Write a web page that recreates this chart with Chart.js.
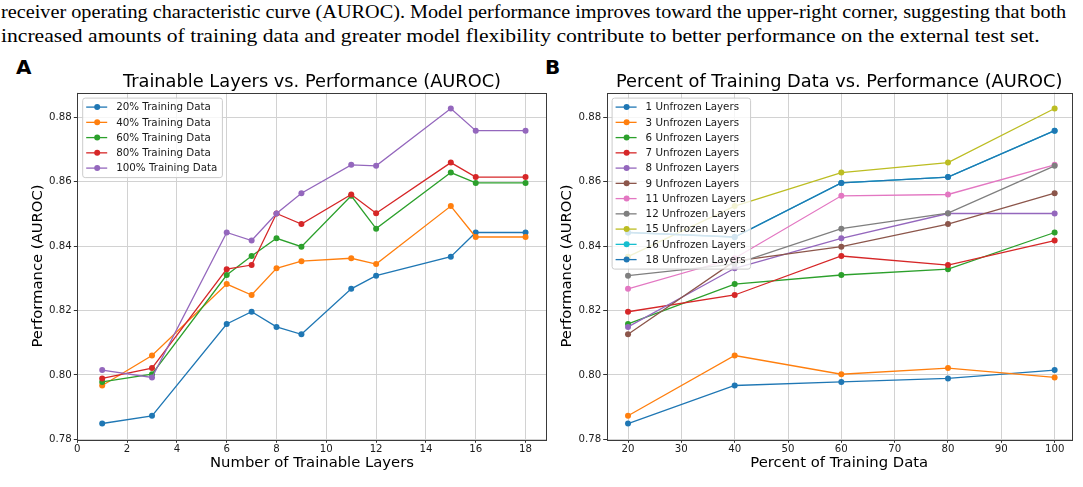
<!DOCTYPE html>
<html lang="en">
<head>
<meta charset="UTF-8">
<title>Trainable Layers and Training Data vs. AUROC</title>
<style>
    body {
        margin: 0;
        width: 1083px;
        height: 487px;
        position: relative;
        overflow: hidden;
        background: #fff;
    }
    .caption {
        position: absolute;
        left: 1px;
        font-family: "Liberation Serif", "Times New Roman", serif;
        font-size: 19px;
        line-height: 24px;
        white-space: nowrap;
        color: #000;
        transform-origin: 0 0;
    }
    .tag {
        position: absolute;
        top: 57px;
        font-family: "DejaVu Sans", sans-serif;
        font-weight: bold;
        font-size: 20px;
        line-height: 20px;
        color: #000;
    }
    canvas {
        position: absolute;
        top: 0;
    }
</style>
<script src="https://cdn.jsdelivr.net/npm/chart.js"></script>
</head>
<body>
    <div class="caption" id="cap1" style="top:0px">receiver operating characteristic curve (AUROC). Model performance improves toward the upper-right corner, suggesting that both</div>
    <div class="caption" id="cap2" style="top:24px">increased amounts of training data and greater model flexibility contribute to better performance on the external test set.</div>
    <div class="tag" style="left:16px">A</div>
    <div class="tag" style="left:545px">B</div>

    <canvas id="chartA" width="562" height="487" style="left:0px"></canvas>
    <canvas id="chartB" width="553" height="487" style="left:530px"></canvas>

<script>
// --- data ---
const trainableLayers = [1, 3, 6, 7, 8, 9, 11, 12, 15, 16, 18];
const trainingPercents = [20, 40, 60, 80, 100];

// AUROC per number of trainable layers, one array per training-data share
const auroc20 = [0.7849, 0.7873, 0.8158, 0.8196, 0.8149, 0.8126, 0.8267, 0.8308, 0.8367, 0.8442, 0.8442];
const auroc40 = [0.7967, 0.8060, 0.8282, 0.8248, 0.8331, 0.8353, 0.8362, 0.8344, 0.8524, 0.8428, 0.8428];
const auroc60 = [0.7978, 0.8002, 0.8310, 0.8369, 0.8424, 0.8398, 0.8556, 0.8454, 0.8628, 0.8596, 0.8596];
const auroc80 = [0.7989, 0.8021, 0.8328, 0.8341, 0.8501, 0.8468, 0.8560, 0.8502, 0.8659, 0.8614, 0.8614];
const auroc100 = [0.8015, 0.7992, 0.8442, 0.8417, 0.8501, 0.8564, 0.8652, 0.8649, 0.8827, 0.8758, 0.8758];

const yTicks = [0.78, 0.80, 0.82, 0.84, 0.86, 0.88];

const tab10 = ['#1f77b4', '#ff7f0e', '#2ca02c', '#d62728', '#9467bd',
               '#8c564b', '#e377c2', '#7f7f7f', '#bcbd22', '#17becf'];

// squeeze each caption line horizontally to the width it has in the reference
(function fitCaption() {
    [['cap1', 1065], ['cap2', 1039]].forEach(([id, target]) => {
        const el = document.getElementById(id);
        el.style.transform = 'scaleX(' + (target / el.offsetWidth) + ')';
    });
})();

const FONT = '"DejaVu Sans", sans-serif';

// matplotlib-like title, frame and legend inside the axes
const frameLegend = {
    id: 'frameLegend',
    afterDatasetsDraw(chart, args, opts) {
        const ctx = chart.ctx;
        const a = chart.chartArea;
        ctx.save();

        ctx.fillStyle = '#000';
        ctx.font = '17.8px ' + FONT;
        ctx.textAlign = 'center';
        ctx.textBaseline = 'middle';
        ctx.fillText(opts.title, (a.left + a.right) / 2, 82.5);

        ctx.strokeStyle = '#3a3a3a';
        ctx.lineWidth = 1;
        ctx.strokeRect(Math.round(a.left) + 0.5, Math.round(a.top) + 0.5,
                       Math.round(a.right - a.left), Math.round(a.bottom - a.top));

        const ds = chart.data.datasets;
        ctx.font = '10.3px ' + FONT;
        ctx.textAlign = 'left';
        const textW = Math.max(...ds.map(d => ctx.measureText(d.label).width));
        const x0 = a.left + 5.4;
        const y0 = a.top + 5.4;
        const rowH = 15.25;
        const w = 33.5 + textW + 5;
        const h = 9 + (ds.length - 1) * rowH + 9.5;

        ctx.beginPath();
        ctx.roundRect(x0, y0, w, h, 2.5);
        ctx.fillStyle = 'rgba(255,255,255,0.8)';
        ctx.fill();
        ctx.strokeStyle = '#cccccc';
        ctx.stroke();

        ds.forEach((d, i) => {
            const y = y0 + 9 + i * rowH;
            ctx.strokeStyle = d.borderColor;
            ctx.lineWidth = 1.3;
            ctx.beginPath();
            ctx.moveTo(x0 + 3.5, y);
            ctx.lineTo(x0 + 24.5, y);
            ctx.stroke();
            ctx.fillStyle = d.borderColor;
            ctx.beginPath();
            ctx.arc(x0 + 14.5, y, 3, 0, Math.PI * 2);
            ctx.fill();
            ctx.fillStyle = '#1a1a1a';
            ctx.fillText(d.label, x0 + 33.5, y + 0.5);
        });
        ctx.restore();
    }
};

function series(label, xs, ys, i, n) {
    return {
        label: label,
        data: xs.map((x, k) => ({ x: x, y: ys[k] })),
        borderColor: tab10[i % 10],
        backgroundColor: tab10[i % 10],
        borderWidth: 1.3,
        pointRadius: 3,
        pointBorderWidth: 0,
        tension: 0,
        order: n - 1 - i
    };
}

function makeChart(id, cfg) {
    return new Chart(document.getElementById(id), {
        type: 'line',
        data: { datasets: cfg.datasets },
        plugins: [frameLegend],
        options: {
            responsive: false,
            animation: false,
            devicePixelRatio: 1,
            layout: { padding: { left: 0, top: 92.7, bottom: 0, right: cfg.padRight } },
            plugins: {
                legend: { display: false },
                tooltip: { enabled: false },
                title: { display: false },
                frameLegend: { title: cfg.title }
            },
            scales: {
                x: {
                    type: 'linear',
                    min: cfg.xMin,
                    max: cfg.xMax,
                    afterFit: s => { s.height = 47.7; },
                    border: { display: false },
                    grid: { color: '#d2d2d2', lineWidth: 1, tickLength: 3.5, tickColor: '#333', drawTicks: true },
                    ticks: {
                        stepSize: cfg.xStep,
                        includeBounds: false,
                        padding: 0,
                        maxRotation: 0,
                        color: '#1a1a1a',
                        font: { family: FONT, size: 10.2 }
                    },
                    title: {
                        display: true,
                        text: cfg.xTitle,
                        color: '#000',
                        font: { family: FONT, size: 14.8, lineHeight: 1.2 },
                        padding: { top: 0, bottom: 15 }
                    }
                },
                y: {
                    type: 'linear',
                    min: 0.78,
                    max: 0.8876,
                    afterFit: s => { s.width = cfg.yWidth; },
                    afterBuildTicks: s => { s.ticks = yTicks.map(v => ({ value: v })); },
                    border: { display: false },
                    grid: { color: '#d2d2d2', lineWidth: 1, tickLength: 3.5, tickColor: '#333', drawTicks: true },
                    ticks: {
                        padding: 2,
                        color: '#1a1a1a',
                        font: { family: FONT, size: 10.2 },
                        callback: v => v.toFixed(2)
                    },
                    title: {
                        display: true,
                        text: 'Performance (AUROC)',
                        color: '#000',
                        font: { family: FONT, size: 14.8, lineHeight: 1.2 },
                        padding: { top: cfg.yTitlePad, bottom: 0 }
                    }
                }
            }
        }
    });
}

// A: one line per training-data share, over trainable layers
const byShare = [auroc20, auroc40, auroc60, auroc80, auroc100];
makeChart('chartA', {
    title: 'Trainable Layers vs. Performance (AUROC)',
    xTitle: 'Number of Trainable Layers',
    xMin: 0, xMax: 18.85, xStep: 2,
    yWidth: 77.3, yTitlePad: 29.1, padRight: 15.3,
    datasets: byShare.map((ys, i) =>
        series(trainingPercents[i] + '% Training Data', trainableLayers, ys, i, byShare.length))
});

// B: one line per number of unfrozen layers, over training-data share
makeChart('chartB', {
    title: 'Percent of Training Data vs. Performance (AUROC)',
    xTitle: 'Percent of Training Data',
    xMin: 16, xMax: 103.2, xStep: 10,
    yWidth: 76.7, yTitlePad: 27.8, padRight: 11.3,
    datasets: trainableLayers.map((L, i) =>
        series(L + ' Unfrozen Layers', trainingPercents, byShare.map(arr => arr[i]), i, trainableLayers.length))
});
</script>
</body>
</html>
